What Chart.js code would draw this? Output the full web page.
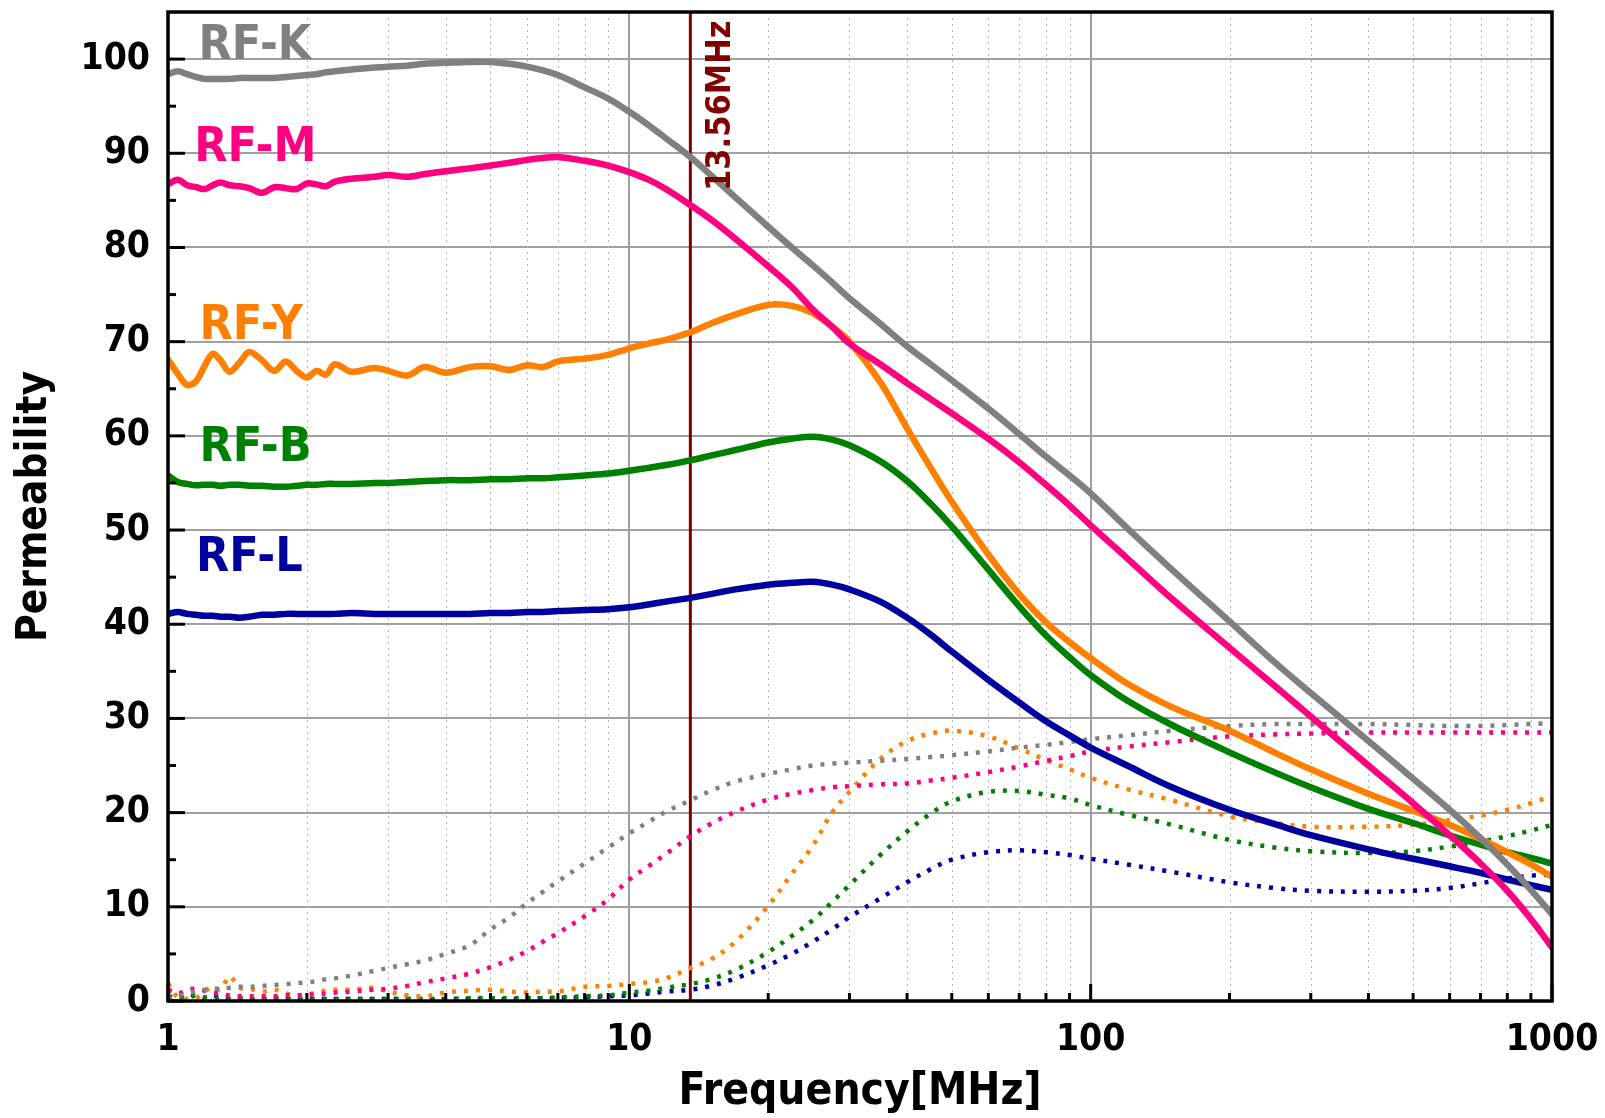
<!DOCTYPE html>
<html lang="en">
<head>
    <meta charset="UTF-8">
    <title>Permeability vs Frequency</title>
    <script src="https://cdn.jsdelivr.net/npm/chart.js"></script>
    <style>
        html, body {
            margin: 0;
            padding: 0;
            background-color: #fff;
        }

        #wrap {
            width: 1605px;
            height: 1118px;
        }
    </style>
</head>
<body>
    <div id="wrap"><canvas id="chart" width="1605" height="1118"></canvas></div>
    <script>
        // frequency grid in MHz (shared by every curve)
        const freq = [1, 1.05, 1.1, 1.15, 1.2, 1.25, 1.3, 1.36, 1.43, 1.5, 1.6, 1.7, 1.8, 1.9, 2, 2.1, 2.2, 2.3, 2.5, 2.8,
            3, 3.3, 3.6, 4, 4.5, 5, 5.5, 6, 6.5, 7, 8, 9, 10, 11, 12, 13.56, 15, 17, 20, 22.5,
            25, 27.5, 30, 35, 40, 45, 50, 60, 70, 80, 90, 100, 120, 150, 200, 250, 300, 400, 500, 600,
            700, 800, 900, 1000];

        // real part (solid lines)
        const realK = [98.4, 98.7, 98.4, 98.1, 97.9, 97.9, 97.9, 97.9, 98.0, 98.0, 98.0, 98.0, 98.1, 98.2, 98.3, 98.4, 98.6, 98.7, 98.9, 99.1,
            99.2, 99.3, 99.5, 99.6, 99.7, 99.7, 99.5, 99.2, 98.8, 98.3, 97.0, 95.8, 94.4, 93.0, 91.6, 89.6, 87.7, 85.3, 82.2, 80.0,
            78.1, 76.3, 74.6, 71.9, 69.5, 67.6, 65.9, 62.9, 60.2, 57.8, 55.8, 53.9, 50.2, 45.8, 40.3, 36.0, 32.7, 27.6, 23.6, 20.3,
            17.3, 14.5, 11.8, 9.2];
        const realM = [86.7, 87.2, 86.6, 86.4, 86.2, 86.6, 86.9, 86.6, 86.5, 86.3, 85.8, 86.4, 86.3, 86.2, 86.8, 86.7, 86.5, 87.0, 87.3, 87.5,
            87.7, 87.5, 87.8, 88.1, 88.4, 88.7, 89.0, 89.3, 89.5, 89.6, 89.2, 88.7, 88.0, 87.2, 86.2, 84.5, 83.0, 80.9, 78.0, 75.8,
            73.4, 71.6, 69.8, 67.6, 65.6, 63.9, 62.4, 59.7, 57.2, 54.8, 52.6, 50.5, 47.0, 42.7, 37.5, 33.5, 30.2, 25.0, 21.0, 17.6,
            14.6, 11.7, 8.7, 5.7];
        const realY = [68.1, 66.6, 65.4, 65.8, 67.4, 68.7, 68.0, 66.8, 67.8, 68.9, 68.0, 66.9, 67.9, 66.9, 66.2, 66.9, 66.5, 67.6, 66.8, 67.2,
            66.9, 66.4, 67.3, 66.7, 67.3, 67.4, 67.0, 67.5, 67.3, 67.9, 68.2, 68.6, 69.3, 69.8, 70.2, 71.0, 71.9, 72.9, 73.9, 73.8,
            73.0, 71.6, 70.0, 65.7, 60.8, 56.6, 53.0, 47.4, 43.2, 40.2, 38.1, 36.4, 33.7, 31.2, 28.7, 26.4, 24.6, 22.0, 20.2, 18.7,
            17.2, 15.8, 14.5, 13.2];
        const realB = [55.8, 55.1, 54.9, 54.75, 54.8, 54.8, 54.7, 54.8, 54.8, 54.7, 54.7, 54.6, 54.6, 54.7, 54.8, 54.8, 54.9, 54.9, 54.9, 55.0,
            55.0, 55.1, 55.2, 55.3, 55.3, 55.4, 55.4, 55.5, 55.5, 55.6, 55.8, 56.0, 56.3, 56.6, 56.9, 57.4, 57.9, 58.5, 59.3, 59.7,
            59.9, 59.6, 59.0, 57.3, 55.2, 52.8, 50.4, 45.8, 41.9, 38.8, 36.5, 34.6, 31.9, 29.3, 26.4, 24.3, 22.7, 20.4, 18.9, 17.6,
            16.6, 15.8, 15.2, 14.6];
        const realL = [41.1, 41.3, 41.1, 41.0, 40.9, 40.9, 40.8, 40.8, 40.7, 40.8, 41.0, 41.0, 41.1, 41.1, 41.1, 41.1, 41.1, 41.1, 41.2, 41.1,
            41.1, 41.1, 41.1, 41.1, 41.1, 41.2, 41.2, 41.3, 41.3, 41.4, 41.5, 41.6, 41.8, 42.1, 42.4, 42.8, 43.2, 43.7, 44.2, 44.4,
            44.5, 44.2, 43.7, 42.4, 40.7, 38.9, 37.1, 34.1, 31.7, 29.7, 28.2, 26.9, 25.0, 22.7, 20.3, 18.8, 17.6, 16.1, 15.1, 14.3,
            13.6, 12.9, 12.3, 11.8];

        // imaginary part (dotted lines)
        const imagK = [0.2, 0.5, 0.8, 1.0, 1.2, 1.3, 1.3, 1.4, 1.5, 1.5, 1.6, 1.7, 1.8, 1.9, 2.0, 2.1, 2.3, 2.4, 2.7, 3.2,
            3.5, 3.9, 4.3, 5.0, 5.9, 7.6, 8.9, 10.4, 11.6, 12.7, 14.6, 16.3, 17.8, 19.0, 20.1, 21.3, 22.3, 23.3, 24.1, 24.6,
            25.0, 25.2, 25.3, 25.5, 25.7, 25.9, 26.1, 26.5, 26.9, 27.2, 27.5, 27.8, 28.2, 28.7, 29.2, 29.4, 29.4, 29.4, 29.3, 29.2,
            29.2, 29.3, 29.4, 29.5];
        const imagM = [1.2, 0.8, 1.2, 1.3, 1.1, 0.9, 0.8, 0.6, 0.5, 0.5, 0.5, 0.5, 0.6, 0.6, 0.7, 0.7, 0.8, 0.9, 1.0, 1.2,
            1.3, 1.6, 2.0, 2.4, 2.9, 3.6, 4.4, 5.3, 6.3, 7.2, 9.0, 10.8, 12.9, 14.3, 15.6, 17.5, 18.8, 20.1, 21.4, 22.0,
            22.4, 22.7, 22.8, 23.0, 23.1, 23.4, 23.7, 24.3, 24.9, 25.5, 26.0, 26.5, 27.0, 27.5, 28.1, 28.3, 28.4, 28.5, 28.5, 28.5,
            28.5, 28.5, 28.5, 28.5];
        const imagY = [1.9, 0.4, 0.2, 0.3, 1.0, 1.5, 1.2, 2.6, 1.4, 1.3, 1.0, 1.2, 0.8, 0.6, 0.7, 0.9, 1.1, 1.2, 1.2, 1.4,
            1.0, 0.6, 0.5, 0.9, 1.1, 1.2, 1.0, 0.9, 1.0, 1.0, 1.5, 1.6, 1.8, 2.0, 2.4, 3.5, 4.4, 6.3, 10.1, 13.5,
            16.5, 20.0, 22.2, 25.7, 27.6, 28.4, 28.7, 28.1, 26.8, 25.6, 24.6, 23.7, 22.5, 21.3, 19.6, 18.9, 18.5, 18.5, 18.7, 19.2,
            19.7, 20.3, 21.0, 21.8];
        const imagB = [0.3, 0.5, 0.3, 0.6, 0.4, 0.3, 0.2, 0.2, 0.3, 0.2, 0.2, 0.2, 0.2, 0.2, 0.2, 0.2, 0.2, 0.2, 0.2, 0.2,
            0.2, 0.2, 0.2, 0.2, 0.3, 0.3, 0.3, 0.3, 0.3, 0.4, 0.5, 0.6, 0.9, 1.1, 1.4, 1.8, 2.3, 3.3, 5.2, 6.9,
            8.6, 10.5, 12.3, 15.5, 18.0, 19.9, 21.2, 22.2, 22.3, 21.9, 21.5, 20.8, 19.8, 18.7, 17.1, 16.3, 15.9, 15.7, 15.9, 16.4,
            16.9, 17.5, 18.1, 18.7];
        const imagL = [0.5, 0.3, 0.7, 0.5, 0.3, 0.6, 0.4, 0.3, 0.3, 0.2, 0.2, 0.3, 0.2, 0.2, 0.2, 0.2, 0.2, 0.2, 0.2, 0.2,
            0.2, 0.2, 0.2, 0.2, 0.2, 0.2, 0.2, 0.3, 0.3, 0.3, 0.4, 0.5, 0.6, 0.8, 1.0, 1.2, 1.6, 2.4, 3.8, 5.0,
            6.3, 7.6, 8.9, 10.9, 12.6, 14.0, 15.0, 15.8, 16.0, 15.8, 15.5, 15.1, 14.5, 13.7, 12.6, 12.0, 11.7, 11.6, 11.7, 12.0,
            12.5, 13.0, 13.3, 13.5];

        const seriesNames = ['RF-K', 'RF-M', 'RF-Y', 'RF-B', 'RF-L'];
        const seriesColors = ['#808080', '#ff0080', '#ff8000', '#008000', '#00009f'];
        const realSets = [realK, realM, realY, realB, realL];
        const imagSets = [imagK, imagM, imagY, imagB, imagL];

        // where the series names sit (MHz, permeability)
        const nameFreq = [1.165, 1.14, 1.17, 1.17, 1.15];
        const nameValue = [100, 89.2, 70.3, 57.3, 45.6];

        const markerFreq = 13.56;
        const markerText = '13.56MHz';
        const markerTextValue = 86.0;

        const xTitle = 'Frequency[MHz]';

        const xTickValues = [1, 2, 3, 4, 5, 6, 7, 8, 9, 10, 20, 30, 40, 50, 60, 70, 80, 90,
            100, 200, 300, 400, 500, 600, 700, 800, 900, 1000];
        const yTickValues = [0, 10, 20, 30, 40, 50, 60, 70, 80, 90, 100];
        const yMinorValues = [5, 15, 25, 35, 45, 55, 65, 75, 85, 95];

        const FONT = "'DejaVu Sans Condensed', 'DejaVu Sans', sans-serif";
        const isDecade = v => Math.abs(Math.log10(v) - Math.round(Math.log10(v))) < 1e-9;

        const datasets = [];
        realSets.forEach((arr, i) => {
            datasets.push({
                label: seriesNames[i] + " μ'",
                data: freq.map((f, j) => ({ x: f, y: arr[j] })),
                borderColor: seriesColors[i],
                borderWidth: 6.5,
                pointRadius: 0,
                tension: 0.35,
                borderJoinStyle: 'round',
                borderCapStyle: 'round',
                fill: false
            });
        });
        imagSets.forEach((arr, i) => {
            datasets.push({
                label: seriesNames[i] + ' μ"',
                data: freq.map((f, j) => ({ x: f, y: arr[j] })),
                borderColor: seriesColors[i],
                borderWidth: 4.5,
                borderDash: [4, 8],
                pointRadius: 0,
                tension: 0.35,
                fill: false
            });
        });

        const decorPlugin = {
            id: 'decor',
            beforeDatasetsDraw(chart) {
                const { ctx, chartArea: a, scales: { x } } = chart;
                ctx.save();
                // dotted minor grid
                ctx.strokeStyle = '#b4b4b4';
                ctx.lineWidth = 1;
                ctx.setLineDash([2, 4]);
                xTickValues.filter(v => !isDecade(v)).forEach(v => {
                    const px = Math.round(x.getPixelForValue(v)) + 0.5;
                    ctx.beginPath();
                    ctx.moveTo(px, a.top);
                    ctx.lineTo(px, a.bottom);
                    ctx.stroke();
                });
                ctx.setLineDash([]);
                // 13.56 MHz marker line
                const mx = x.getPixelForValue(markerFreq);
                ctx.strokeStyle = '#800000';
                ctx.lineWidth = 3;
                ctx.beginPath();
                ctx.moveTo(mx, a.top);
                ctx.lineTo(mx, a.bottom);
                ctx.stroke();
                ctx.restore();
            },
            afterDatasetsDraw(chart) {
                const { ctx, chartArea: a, scales: { x, y } } = chart;
                ctx.save();
                // inward ticks
                ctx.strokeStyle = '#000';
                ctx.lineWidth = 3;
                xTickValues.forEach(v => {
                    const px = x.getPixelForValue(v);
                    const len = isDecade(v) ? 17 : 8;
                    ctx.beginPath();
                    ctx.moveTo(px, a.bottom);
                    ctx.lineTo(px, a.bottom - len);
                    ctx.stroke();
                });
                yTickValues.forEach(v => {
                    const py = y.getPixelForValue(v);
                    ctx.beginPath();
                    ctx.moveTo(a.left, py);
                    ctx.lineTo(a.left + 17, py);
                    ctx.stroke();
                });
                yMinorValues.forEach(v => {
                    const py = y.getPixelForValue(v);
                    ctx.beginPath();
                    ctx.moveTo(a.left, py);
                    ctx.lineTo(a.left + 8, py);
                    ctx.stroke();
                });
                // frame
                ctx.lineWidth = 3.5;
                ctx.strokeRect(a.left, a.top, a.right - a.left, a.bottom - a.top);

                // series names
                ctx.font = 'bold 48px ' + FONT;
                ctx.textAlign = 'left';
                ctx.textBaseline = 'alphabetic';
                seriesNames.forEach((name, i) => {
                    ctx.fillStyle = seriesColors[i];
                    ctx.fillText(name, x.getPixelForValue(nameFreq[i]), y.getPixelForValue(nameValue[i]));
                });

                // x axis title, centred under the plot
                ctx.fillStyle = '#000';
                ctx.font = 'bold 44px ' + FONT;
                ctx.textAlign = 'center';
                ctx.fillText(xTitle, (a.left + a.right) / 2, a.bottom + 103);

                // marker label
                const mx = x.getPixelForValue(markerFreq);
                ctx.translate(mx + 31, y.getPixelForValue(markerTextValue));
                ctx.rotate(-Math.PI / 2);
                ctx.fillStyle = '#800000';
                ctx.font = 'bold 34px ' + FONT;
                ctx.textAlign = 'left';
                ctx.textBaseline = 'middle';
                ctx.fillText(markerText, 0, 0);
                ctx.restore();
            }
        };

        Chart.defaults.font.family = FONT;
        Chart.defaults.font.weight = 'bold';
        Chart.defaults.color = '#000';

        new Chart(document.getElementById('chart'), {
            type: 'line',
            data: { datasets: datasets },
            plugins: [decorPlugin],
            options: {
                responsive: false,
                animation: false,
                layout: { padding: { left: 0, right: 53, top: 12, bottom: 0 } },
                plugins: {
                    legend: { display: false },
                    tooltip: { enabled: false }
                },
                scales: {
                    x: {
                        type: 'logarithmic',
                        min: 1,
                        max: 1000,
                        afterBuildTicks: s => { s.ticks = xTickValues.map(v => ({ value: v })); },
                        afterFit: s => {
                            s.height = 117;
                            s.paddingLeft = 0;
                            s.paddingRight = 0;
                        },
                        ticks: {
                            autoSkip: false,
                            maxRotation: 0,
                            padding: 17,
                            font: { size: 37, weight: 'bold' },
                            color: '#000',
                            callback: v => isDecade(v) ? String(Math.round(v)) : ''
                        },
                        grid: {
                            drawTicks: false,
                            lineWidth: 2,
                            color: c => (c.tick && isDecade(c.tick.value)) ? '#a0a0a0' : 'rgba(0,0,0,0)'
                        },
                        border: { display: false },
                        title: { display: false }
                    },
                    y: {
                        min: 0,
                        max: 105,
                        afterBuildTicks: s => { s.ticks = yTickValues.map(v => ({ value: v })); },
                        afterFit: s => {
                            s.width = 168;
                            s.paddingTop = 0;
                            s.paddingBottom = 0;
                        },
                        ticks: {
                            padding: 18,
                            font: { size: 37, weight: 'bold' },
                            color: '#000'
                        },
                        grid: {
                            drawTicks: false,
                            lineWidth: 2,
                            color: '#a0a0a0'
                        },
                        border: { display: false },
                        title: {
                            display: true,
                            text: 'Permeability',
                            font: { size: 42, weight: 'bold' },
                            color: '#000',
                            padding: { top: 10, bottom: 0 }
                        }
                    }
                }
            }
        });
    </script>
</body>
</html>
